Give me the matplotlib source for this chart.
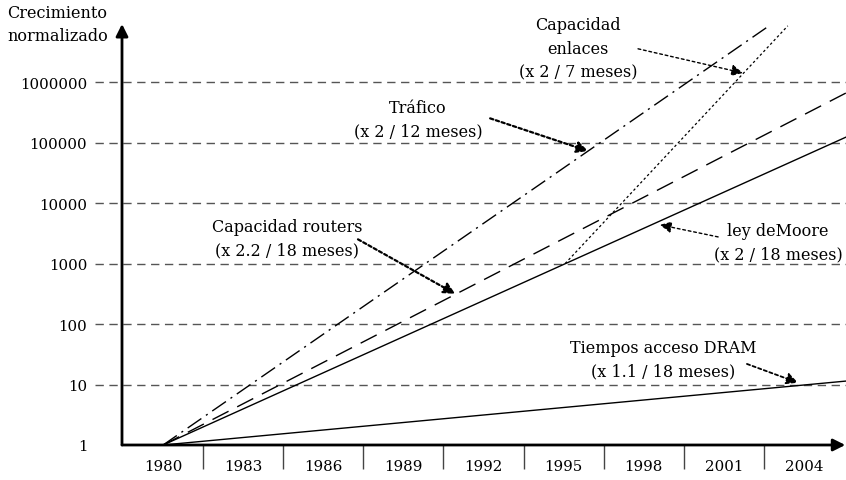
import matplotlib
matplotlib.use("Agg")
import matplotlib.pyplot as plt

plt.rcParams["font.family"] = "DejaVu Serif"

# growth lines (normalised to 1 in 1980), log scale
moore_years = [1980, 2005.58]
moore_vals = [1, 1.23e5]
dram_years = [1980, 2005.58]
dram_vals = [1, 11.4]
routers_years = [1980, 2005.58]
routers_vals = [1, 6.6e5]
traffic_years = [1980, 2002.73]
traffic_vals = [1, 8.7e6]
links_years = [1995.06, 2003.4]
links_vals = [1000, 8.5e6]

year_labels = [1980, 1983, 1986, 1989, 1992, 1995, 1998, 2001, 2004]
sep_ticks = [1981.5, 1984.5, 1987.5, 1990.5, 1993.5, 1996.5, 1999.5, 2002.5]
y_levels = [1, 10, 100, 1000, 10000, 100000, 1000000]
y_labels = ["1", "10", "100", "1000", "10000", "100000", "1000000"]

W, H = 846, 481
fig = plt.figure(figsize=(W / 100, H / 100), dpi=100)
ax = fig.add_axes([122 / W, 35 / H, 724 / W, 421 / H])
ax.set_yscale("log")
ax.set_xlim(1978.46, 2005.58)
ax.set_ylim(1, 10 ** 6.96)
for s in ax.spines.values():
    s.set_visible(False)

# dashed grid, reaching a bit left of the axis
for v in y_levels[1:]:
    ax.axhline(v, xmin=-0.037, xmax=1, color="#555555", lw=1,
               linestyle=(0, (6, 4)), clip_on=False, zorder=1)

ax.plot(moore_years, moore_vals, color="k", lw=1)
ax.plot(dram_years, dram_vals, color="k", lw=1)
ax.plot(routers_years, routers_vals, color="k", lw=1, linestyle=(0, (13, 7)))
ax.plot(traffic_years, traffic_vals, color="k", lw=1, linestyle=(0, (12, 4, 1.5, 4)))
ax.plot(links_years, links_vals, color="k", lw=0.9, linestyle=(0, (2, 2)))

ax.set_yticks(y_levels)
ax.set_yticklabels(y_labels)
ax.yaxis.set_minor_locator(matplotlib.ticker.NullLocator())
ax.tick_params(axis="y", length=0, pad=25, labelsize=10.8)

ax.set_xticks(year_labels)
ax.set_xticklabels([str(y) for y in year_labels])
ax.set_xticks(sep_ticks, minor=True)
ax.tick_params(axis="x", which="major", length=0, pad=10, labelsize=10.8)
ax.tick_params(axis="x", which="minor", length=17, width=1, color="#444444",
               direction="out")

# axes with arrow heads
ax.annotate("", xy=(0.999, 0), xytext=(0, 0), xycoords="axes fraction",
            arrowprops=dict(arrowstyle="-|>", lw=2, color="k",
                            mutation_scale=18, shrinkA=0, shrinkB=0),
            annotation_clip=False)
ax.annotate("", xy=(0, 1), xytext=(0, 0), xycoords="axes fraction",
            arrowprops=dict(arrowstyle="-|>", lw=2, color="k",
                            mutation_scale=18, shrinkA=0, shrinkB=0),
            annotation_clip=False)

fig.text(7 / W, 1 - 5 / H, "Crecimiento\nnormalizado", ha="left", va="top",
         fontsize=11.5, linespacing=1.48)

labels = [
    ("Capacidad\nenlaces\n(x 2 / 7 meses)", 1995.54, 6.56, 1997.79, 6.55, 2001.72, 6.15, 1.0, (2, 2)),
    ("Tráfico\n(x 2 / 12 meses)", 1989.55, 5.39, 1992.25, 5.40, 1995.92, 4.86, 1.6, (1.5, 1.2)),
    ("Capacidad routers\n(x 2.2 / 18 meses)", 1984.64, 3.42, 1987.30, 3.40, 1990.94, 2.50, 1.6, (1.5, 1.2)),
    ("ley deMoore\n(x 2 / 18 meses)", 2003.03, 3.36, 2000.79, 3.44, 1998.61, 3.64, 1.0, (2, 2)),
    ("Tiempos acceso DRAM\n(x 1.1 / 18 meses)", 1998.72, 1.42, 2001.87, 1.34, 2003.78, 1.03, 1.3, (1.8, 1.5)),
]
for text, tx, ty, sx, sy, ex, ey, lw, dash in labels:
    ax.text(tx, 10 ** ty, text, ha="center", va="center", fontsize=11.5,
            linespacing=1.48, zorder=5)
    ax.annotate("", xy=(ex, 10 ** ey), xytext=(sx, 10 ** sy),
                arrowprops=dict(arrowstyle="-|>", lw=lw, color="k",
                                linestyle=(0, dash), mutation_scale=17,
                                shrinkA=0, shrinkB=0))

fig.savefig("out.png", dpi=100)
